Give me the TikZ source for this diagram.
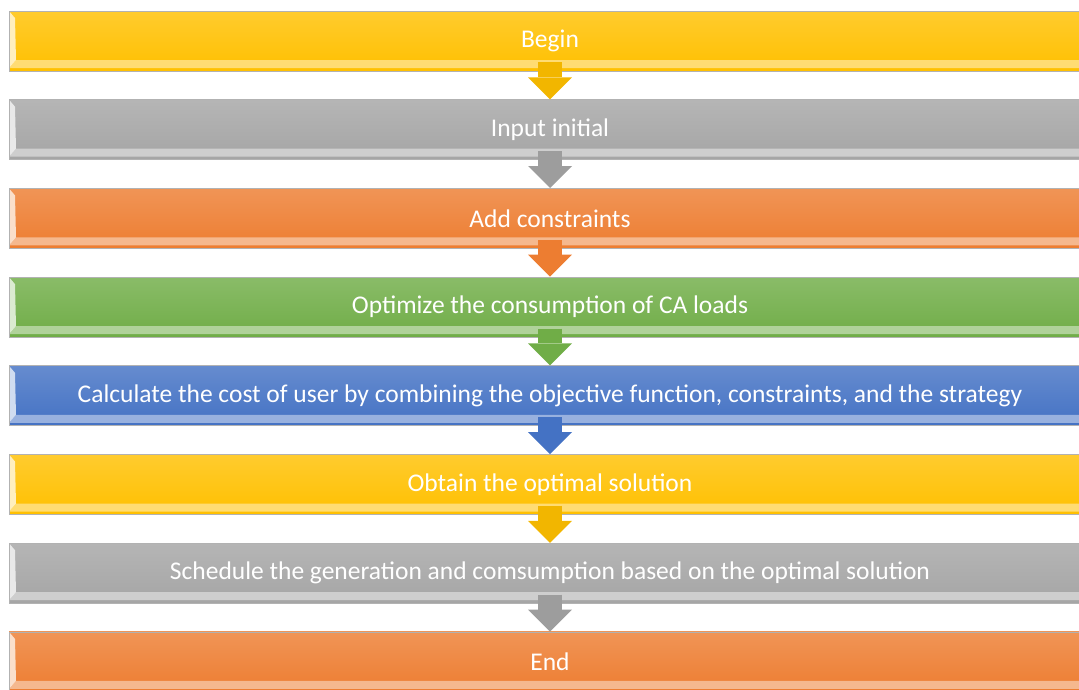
\documentclass[tikz,border=0pt]{standalone}
\usepackage{fontspec}
\setmainfont{Carlito}
\usetikzlibrary{positioning, arrows.meta, calc}

\definecolor{cyellow}{HTML}{FFC000}
\definecolor{cgray}{HTML}{A5A5A5}
\definecolor{corange}{HTML}{ED7D31}
\definecolor{cgreen}{HTML}{70AD47}
\definecolor{cblue}{HTML}{4472C4}

\tikzset{
  bar/.style={draw=black!30, line width=0.8pt, minimum width=1082pt, minimum height=60pt,
    inner sep=0pt, text=white, font=\fontsize{25.5}{28}\selectfont,
    top color=#1!82!white, bottom color=#1,
    path picture={
      % bottom bevel
      \fill[#1!55!white] ($(path picture bounding box.south west)+(0,3pt)$)
        -- ($(path picture bounding box.south east)+(0,3pt)$)
        -- ($(path picture bounding box.south east)+(0,11pt)$)
        -- ($(path picture bounding box.south west)+(7pt,11pt)$) -- cycle;
      % left bevel
      \fill[#1!25!white] ($(path picture bounding box.south west)+(0,3pt)$)
        -- ($(path picture bounding box.south west)+(7pt,11pt)$)
        -- ($(path picture bounding box.north west)+(6pt,-7pt)$)
        -- (path picture bounding box.north west) -- cycle;
    }},
  arr/.style={draw=#1, line width=24pt, shorten <=-9pt,
    -{Triangle[width=44pt,length=22pt,line width=0pt]}},
}

\begin{document}
\begin{tikzpicture}[x=1pt, y=-1pt, node distance=27.9pt]
  \useasboundingbox (0,0) rectangle (1079,689);

  \node[bar=cyellow] (begin) at (550,41) {Begin};
  \node[bar=cgray, below=of begin] (input) {Input initial};
  \node[bar=corange, below=of input] (constr) {Add constraints};
  \node[bar=cgreen, below=of constr] (optim) {Optimize the consumption of CA loads};
  \node[bar=cblue, below=of optim] (cost) {Calculate the cost of user by combining the objective function, constraints, and the strategy};
  \node[bar=cyellow, below=of cost] (solut) {Obtain the optimal solution};
  \node[bar=cgray, below=of solut] (sched) {Schedule the generation and comsumption based on the optimal solution};
  \node[bar=corange, below=of sched] (end) {End};

  \draw[arr=cyellow!95!black] (begin) -- (input);
  \draw[arr=cgray!95!black] (input) -- (constr);
  \draw[arr=corange] (constr) -- (optim);
  \draw[arr=cgreen] (optim) -- (cost);
  \draw[arr=cblue] (cost) -- (solut);
  \draw[arr=cyellow!95!black] (solut) -- (sched);
  \draw[arr=cgray!95!black] (sched) -- (end);
\end{tikzpicture}
\end{document}
